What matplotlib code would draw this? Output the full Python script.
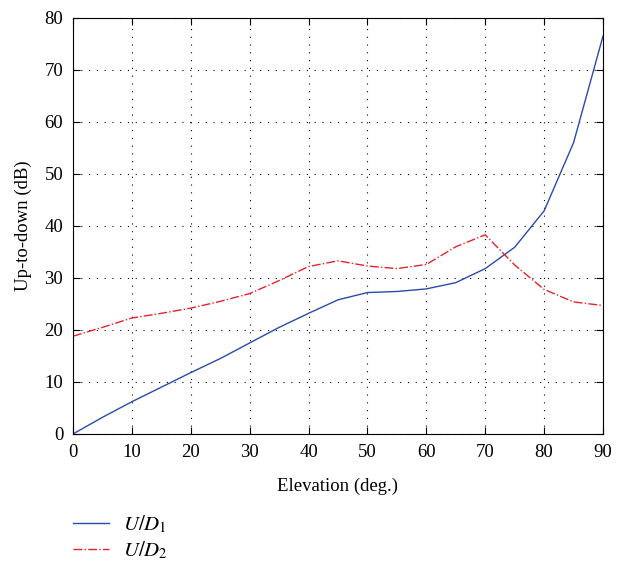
import matplotlib
matplotlib.use("Agg")
import matplotlib.pyplot as plt

plt.rcParams['font.family'] = ['Liberation Serif', 'DejaVu Serif']
plt.rcParams['mathtext.fontset'] = 'stix'

# Data
elevation = [0, 5, 10, 15, 20, 25, 30, 35, 40, 45, 50, 55, 60, 65, 70, 75, 80, 85, 90]
ud1 = [0, 3.2, 6.2, 9.0, 11.8, 14.5, 17.5, 20.5, 23.2, 25.8, 27.2, 27.4, 27.9, 29.1,
       31.8, 35.9, 42.9, 56.0, 76.5]
ud2 = [18.8, 20.5, 22.3, 23.2, 24.2, 25.5, 27.0, 29.5, 32.2, 33.3, 32.3, 31.8, 32.6,
       36.0, 38.3, 32.5, 27.8, 25.4, 24.7]

fig = plt.figure(figsize=(6.27, 5.69), dpi=100)
ax = fig.add_axes([0.1164, 0.2373, 0.8453, 0.7311])

l1, = ax.plot(elevation, ud1, color='#2b4ba8', linewidth=1.0, label=r'$U/D_1$')
l2, = ax.plot(elevation, ud2, color='#e8222a', linewidth=1.0, linestyle='-.',
              label=r'$U/D_2$')

ax.set_xlim(0, 90)
ax.set_ylim(0, 80)
ax.set_xticks(range(0, 91, 10))
ax.set_yticks(range(0, 81, 10))
ax.grid(True, color='black', linestyle=(0, (1, 6)), linewidth=0.8)
ax.tick_params(direction='in', top=True, right=True, labelsize=13.5, length=5, pad=7)
ax.set_xlabel('Elevation (deg.)', fontsize=13.5, labelpad=12)
ax.set_ylabel('Up-to-down (dB)', fontsize=13.5, labelpad=9)

fig.legend(handles=[l1, l2], loc='upper left', bbox_to_anchor=(0.087, 0.13),
           frameon=False, fontsize=15, handlelength=1.7, handletextpad=0.7,
           labelspacing=0.2)

fig.savefig('out.png', dpi=100)
